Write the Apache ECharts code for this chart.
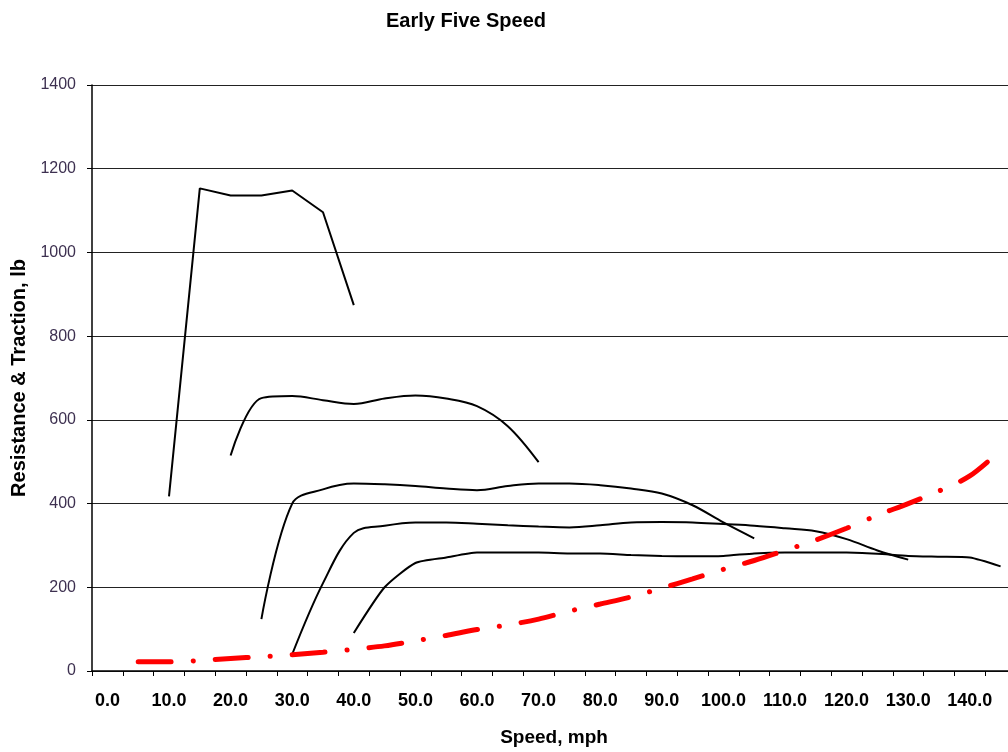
<!DOCTYPE html>
<html>
<head>
<meta charset="utf-8">
<script src="https://cdn.jsdelivr.net/npm/echarts@6/dist/echarts.min.js"></script>
<style>
html,body{margin:0;padding:0;overflow:hidden;background:#fff;}
#c{width:1016px;height:752px;}
</style>
</head>
<body>
<div id="c"></div>
<script>
// Speed categories (mph), every 5 mph
const speeds = [0,5,10,15,20,25,30,35,40,45,50,55,60,65,70,75,80,85,90,95,100,105,110,115,120,125,130,135,140,145];
const speedLabels = speeds.map(s => s.toFixed(1));

// Tractive effort per gear (lb); null = no value
const gear1 = [null,null,417,1153,1136,1136,1148,1096,874,null,null,null,null,null,null,null,null,null,null,null,null,null,null,null,null,null,null,null,null,null];
const gear2 = [null,null,null,null,515,652,657,647,638,651,658,651,633,585,499,null,null,null,null,null,null,null,null,null,null,null,null,null,null,null];
const gear3 = [null,null,null,null,null,124,400,434,448,446,442,436,432,442,448,448,444,436,424,396,355,317,null,null,null,null,null,null,null,null];
const gear4 = [null,null,null,null,null,null,40,210,330,347,355,355,352,348,345,343,348,355,356,355,351,347,341,334,315,288,266,null,null,null];
const gear5 = [null,null,null,null,null,null,null,null,91,200,258,271,283,283,283,281,281,277,275,274,275,281,283,283,283,280,275,273,271,250];
// Resistance (lb)
const resistance = [null,22,22,25,30,34,39,45,52,60,72,85,99,110,124,143,160,177,198,220,243,264,288,313,341,372,400,430,466,527];

const yTicks = {min:0, max:1400, interval:200};

const FONT = 'Liberation Sans, Arial, sans-serif';
const chart = echarts.init(document.getElementById('c'), null, {renderer:'canvas'});
const blackLine = (name, data, smooth) => ({
  name, type:'line', data, smooth, symbol:'none', connectNulls:false,
  lineStyle:{color:'#000', width:2}, itemStyle:{color:'#000'}, z:3
});
chart.setOption({
  animation:false,
  backgroundColor:'#fff',
  title:{
    text:'Early Five Speed', left:461, top:6, textAlign:'center',
    textStyle:{fontFamily:FONT, fontSize:20, fontWeight:'bold', color:'#000'}
  },
  grid:{left:92, right:0, top:85, bottom:80, containLabel:false},
  xAxis:{
    type:'category', data:speedLabels, boundaryGap:true,
    name:'Speed, mph', nameLocation:'middle', nameGap:57,
    nameTextStyle:{fontFamily:FONT, fontSize:19, fontWeight:'bold', color:'#000'},
    axisLine:{lineStyle:{color:'#000', width:1.5}},
    axisTick:{show:true, interval:0, length:5, inside:false, lineStyle:{color:'#000'}},
    axisLabel:{interval:1, margin:21, fontFamily:FONT, fontSize:18, fontWeight:'bold', color:'#000'},
    splitLine:{show:false}
  },
  yAxis:{
    type:'value', min:yTicks.min, max:yTicks.max, interval:yTicks.interval,
    name:'Resistance & Traction, lb', nameLocation:'middle', nameGap:62,
    nameTextStyle:{fontFamily:FONT, fontSize:20, fontWeight:'bold', color:'#000'},
    axisLine:{show:true, lineStyle:{color:'#000', width:1.5}},
    axisTick:{show:true, length:5, lineStyle:{color:'#000'}},
    axisLabel:{margin:16, fontFamily:FONT, fontSize:16, color:'#3d3050', formatter:v => String(v)},
    splitLine:{show:true, lineStyle:{color:'#222', width:1}}
  },
  series:[
    blackLine('Gear 1', gear1, false),
    blackLine('Gear 2', gear2, 0.35),
    blackLine('Gear 3', gear3, 0.35),
    blackLine('Gear 4', gear4, 0.35),
    blackLine('Gear 5', gear5, 0.2),
    {
      name:'Resistance', type:'line', data:resistance, smooth:0.3, symbol:'none',
      lineStyle:{color:'#ff0000', width:5, type:[33,22,0.1,22], cap:'round'},
      itemStyle:{color:'#ff0000'}, z:4
    }
  ]
});
</script>
</body>
</html>
